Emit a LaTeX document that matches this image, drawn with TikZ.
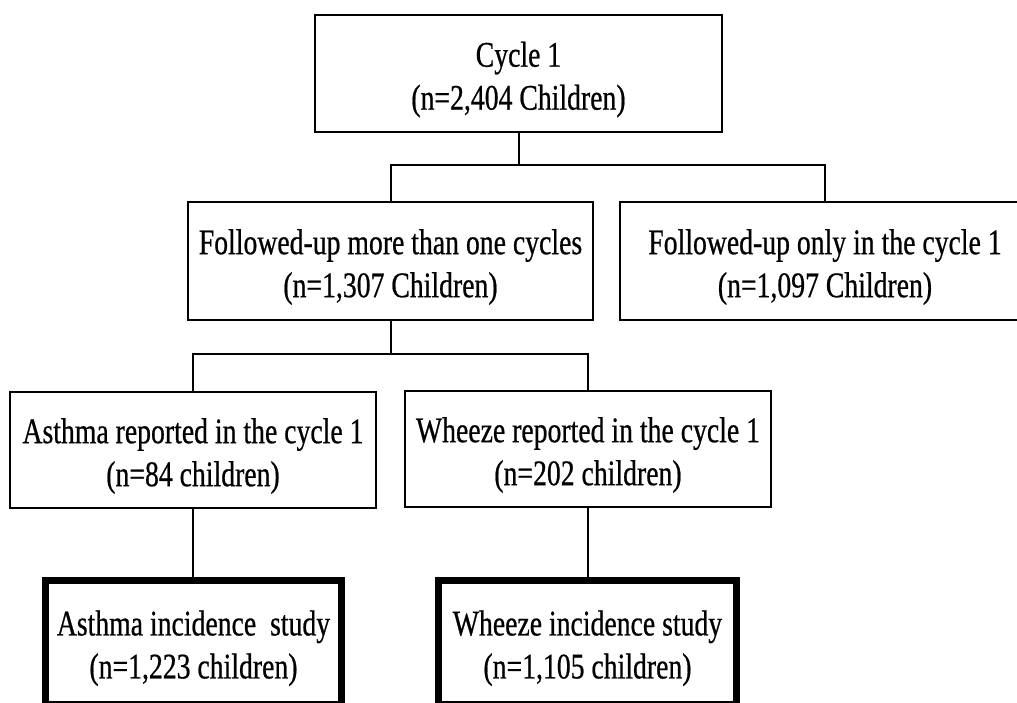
\documentclass[tikz,border=0pt]{standalone}
\usepackage{fontspec}
\setmainfont{Liberation Serif}[FakeStretch=0.77,FakeBold=0.6]
\newcommand\mystrut{\rule{0pt}{37pt}}
\begin{document}
\begin{tikzpicture}[x=1pt,y=-1pt,
  box/.style={draw=black, line width=2.2pt, inner sep=0pt, align=center,
    font=\fontsize{36}{43}\selectfont},
  thickbox/.style={box, line width=7pt},
  conn/.style={draw=black, line width=2pt}]
\useasboundingbox (0,0) rectangle (1017,703);
\node[box, minimum width=407pt, minimum height=117pt] (c1) at (518.5,73.5)
  {\mystrut Cycle 1\\(n=2,404 Children)};
\node[box, minimum width=405pt, minimum height=118pt] (fu) at (390.5,261)
  {\mystrut Followed-up more than one cycles\\(n=1,307 Children)};
\node[box, minimum width=410pt, minimum height=118pt] (fo) at (825,261)
  {\mystrut Followed-up only in the cycle 1\\(n=1,097 Children)};
\node[box, minimum width=366pt, minimum height=116pt] (ar) at (193,450)
  {\mystrut Asthma reported in the cycle 1\\(n=84 children)};
\node[box, minimum width=366pt, minimum height=116pt] (wr) at (588,449)
  {\mystrut Wheeze reported in the cycle 1\\(n=202 children)};
\node[thickbox, minimum width=296pt, minimum height=123.5pt] (ai) at (193.5,642.25)
  {\mystrut Asthma incidence\ \ study\\(n=1,223 children)};
\node[thickbox, minimum width=298pt, minimum height=123.5pt] (wi) at (587.5,642.25)
  {\mystrut Wheeze incidence study\\(n=1,105 children)};
\coordinate (j1) at (518.5,165);
\coordinate (j2) at (390.5,354);
\draw[conn] (c1.south) -- (j1);
\draw[conn] (fu.north) |- (j1) -| (fo.north);
\draw[conn] (fu.south) -- (j2);
\draw[conn] (ar.north) |- (j2) -| (wr.north);
\draw[conn] (ar.south) -- (ar.south |- ai.north);
\draw[conn] (wr.south) -- (wr.south |- wi.north);
\end{tikzpicture}
\end{document}
